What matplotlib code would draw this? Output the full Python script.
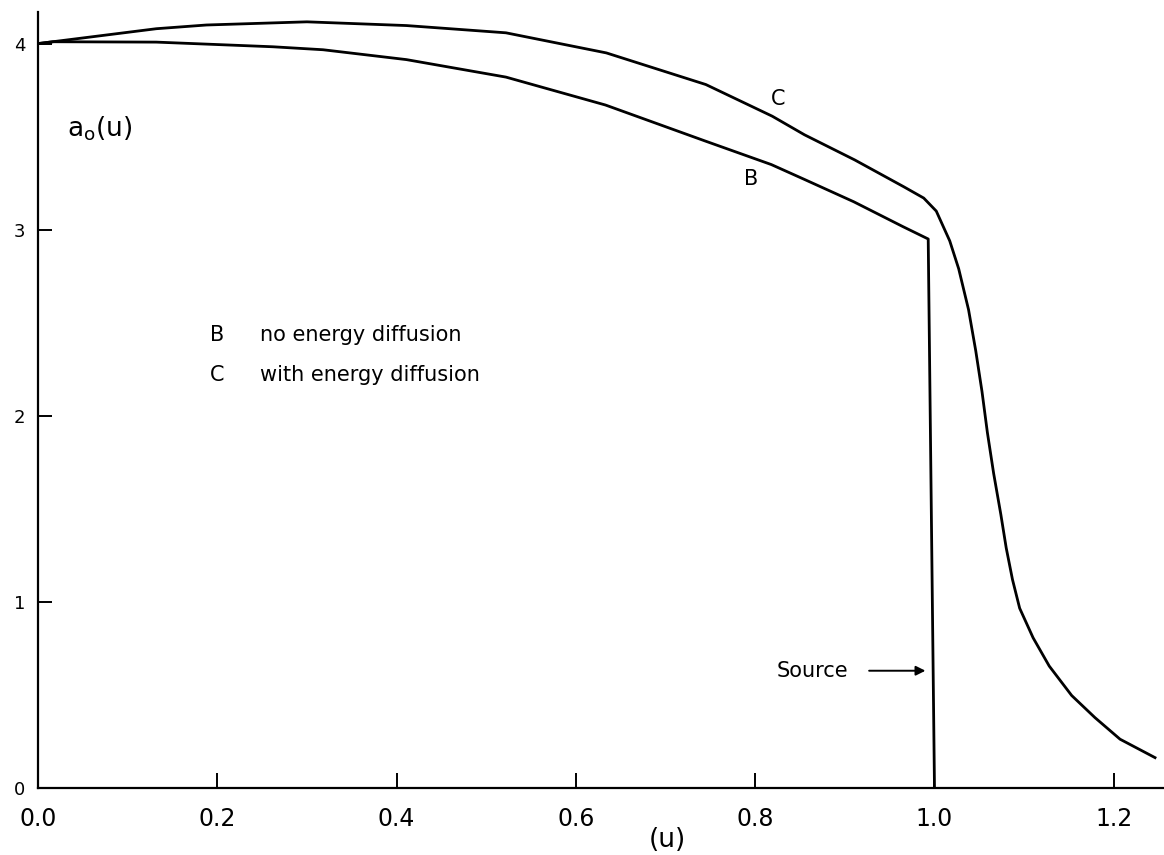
import matplotlib
matplotlib.use("Agg")
import matplotlib.pyplot as plt

# curve B: no energy diffusion (drops straight down at the source)
u_b = [0.0, 0.017, 0.132, 0.262, 0.318, 0.411, 0.522, 0.633, 0.744, 0.818, 0.855, 0.910, 0.965, 0.993, 1.0]
a_b = [4.0, 4.01, 4.008, 3.983, 3.967, 3.914, 3.82, 3.67, 3.477, 3.35, 3.27, 3.15, 3.016, 2.95, 0.0]

# curve C: with energy diffusion
u_c = [0.0, 0.132, 0.188, 0.30, 0.411, 0.522, 0.634, 0.745, 0.819, 0.855, 0.911, 0.966, 0.988,
       1.002, 1.017, 1.027, 1.038, 1.046, 1.053, 1.059, 1.066, 1.074, 1.080, 1.087, 1.095,
       1.110, 1.128, 1.153, 1.179, 1.207, 1.246]
a_c = [4.0, 4.08, 4.10, 4.117, 4.097, 4.058, 3.95, 3.78, 3.61, 3.51, 3.375, 3.23, 3.17,
       3.10, 2.94, 2.79, 2.57, 2.35, 2.13, 1.91, 1.69, 1.47, 1.29, 1.12, 0.966,
       0.807, 0.655, 0.497, 0.378, 0.262, 0.163]

xticks = [0.0, 0.2, 0.4, 0.6, 0.8, 1.0, 1.2]
xticklabels = ["0.0", "0.2", "0.4", "0.6", "0.8", "1.0", "1.2"]
yticks = [0, 1, 2, 3, 4]

fig = plt.figure(figsize=(11.64, 8.55), dpi=100)
ax = fig.add_axes([0.0326, 0.0784, 0.9674, 0.9076])

ax.plot(u_b, a_b, color="black", linewidth=2, solid_joinstyle="round")
ax.plot(u_c, a_c, color="black", linewidth=2, solid_joinstyle="round")

ax.set_xlim(0, 1.256)
ax.set_ylim(0, 4.17)

for s in ["top", "right"]:
    ax.spines[s].set_visible(False)
ax.spines["left"].set_linewidth(1.6)
ax.spines["bottom"].set_linewidth(1.6)

ax.set_xticks(xticks)
ax.set_xticklabels(xticklabels)
ax.set_yticks(yticks)
ax.tick_params(axis="x", direction="in", length=11, width=1.4, labelsize=17, pad=14)
ax.tick_params(axis="y", direction="in", length=10, width=1.4, labelsize=13, pad=9)

# labels and annotations
ax.text(0.069, 3.54, r"a$_\mathregular{o}$(u)", fontsize=19, ha="center", va="center")
ax.text(0.702, -0.28, "(u)", fontsize=19, ha="center", va="center")

ax.text(0.826, 3.70, "C", fontsize=15, ha="center", va="center")
ax.text(0.795, 3.27, "B", fontsize=15, ha="center", va="center")

ax.text(0.192, 2.435, "B", fontsize=15, ha="left", va="center")
ax.text(0.2475, 2.435, "no energy diffusion", fontsize=15, ha="left", va="center")
ax.text(0.192, 2.22, "C", fontsize=15, ha="left", va="center")
ax.text(0.2475, 2.22, "with energy diffusion", fontsize=15, ha="left", va="center")

ax.text(0.864, 0.63, "Source", fontsize=15, ha="center", va="center")
ax.annotate("", xy=(0.993, 0.63), xytext=(0.924, 0.63),
            arrowprops=dict(arrowstyle="-|>", color="black", lw=1.4, mutation_scale=14))

fig.savefig("out.png", dpi=100, facecolor="white")
